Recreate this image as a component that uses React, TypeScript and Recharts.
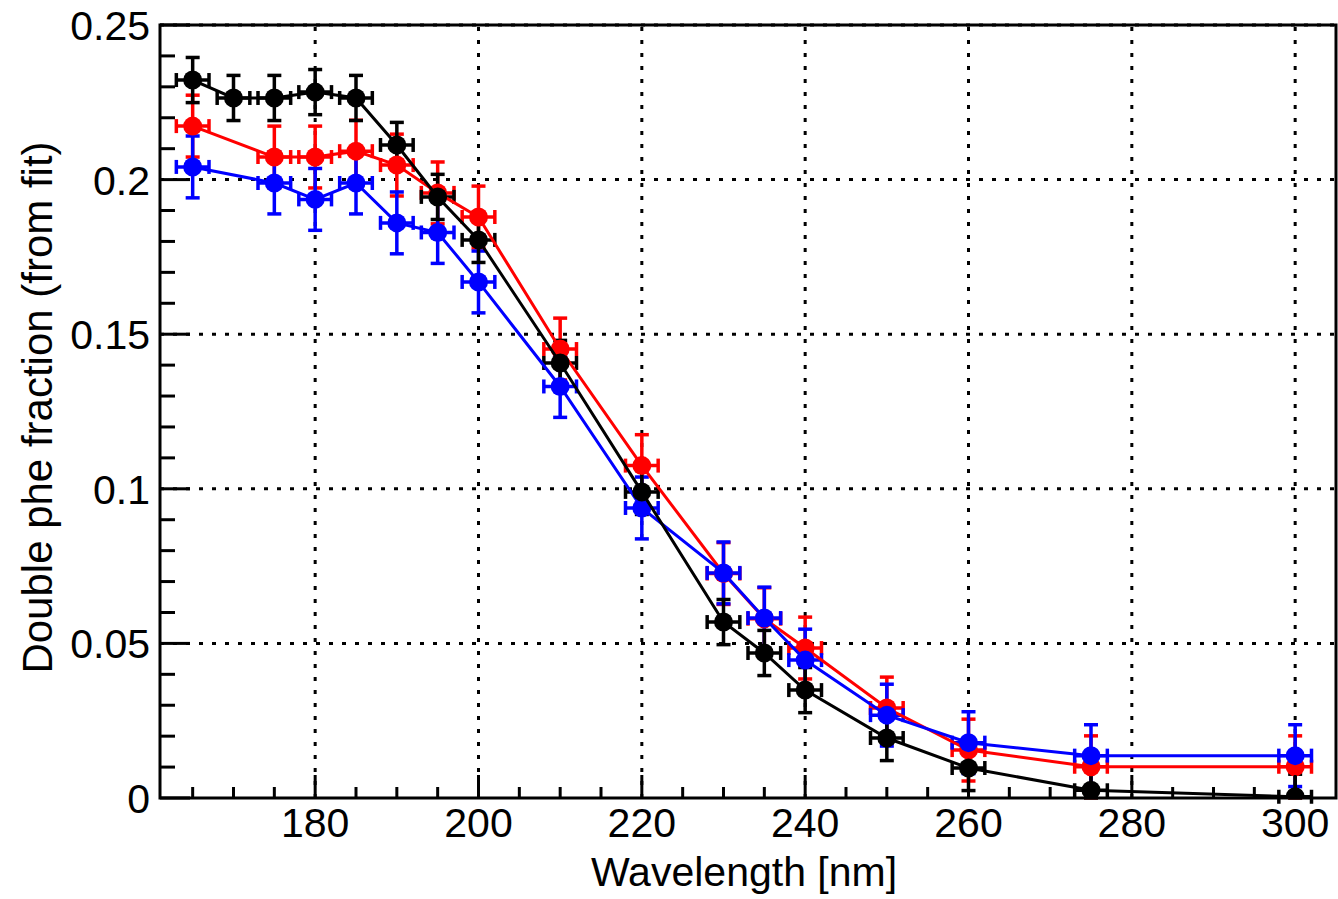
import React from 'react';
import { ComposedChart, Scatter, ErrorBar, XAxis, YAxis, ReferenceLine, ReferenceArea, Label } from 'recharts';

// wavelength points (nm)
const wavelengthBlack = [165, 170, 175, 180, 185, 190, 195, 200, 210, 220, 230, 235, 240, 250, 260, 275, 300];
const wavelengthColor = [165, 175, 180, 185, 190, 195, 200, 210, 220, 230, 235, 240, 250, 260, 275, 300];

// double phe fraction per series
const fracBlack = [0.2322, 0.2264, 0.2264, 0.2283, 0.2264, 0.2112, 0.1944, 0.1805, 0.1407, 0.099, 0.0569, 0.0469, 0.0349, 0.0194, 0.0097, 0.0025, 0.0004];
const fracRed = [0.2173, 0.2073, 0.2073, 0.2092, 0.2047, 0.1957, 0.1879, 0.1452, 0.1075, 0.0726, 0.058, 0.0485, 0.0291, 0.0155, 0.0101, 0.0101];
const fracBlue = [0.2041, 0.1989, 0.1936, 0.1989, 0.186, 0.1829, 0.1669, 0.1331, 0.0938, 0.0728, 0.0582, 0.0446, 0.0268, 0.0179, 0.0137, 0.0137];

// errors (symmetric)
const xErr = 2;
const yErrBlack = 0.0073;
const yErrRed = 0.01;
const yErrBlue = 0.01;

// axes
const xTicks = [165, 170, 175, 180, 185, 190, 195, 200, 205, 210, 215, 220, 225, 230, 235, 240, 245, 250, 255, 260, 265, 270, 275, 280, 285, 290, 295, 300];
const xLabels = [180, 200, 220, 240, 260, 280, 300];
const yTicks = [0, 0.01, 0.02, 0.03, 0.04, 0.05, 0.06, 0.07, 0.08, 0.09, 0.1, 0.11, 0.12, 0.13, 0.14, 0.15, 0.16, 0.17, 0.18, 0.19, 0.2, 0.21, 0.22, 0.23, 0.24, 0.25];
const yLabels = [0, 0.05, 0.1, 0.15, 0.2, 0.25];

const FONT = '"Liberation Sans", Arial, sans-serif';

// error bars are cut at the frame (y = 0), like the original plot
const toPoints = (xs: number[], ys: number[], ey: number) =>
  xs.map((x, i) => ({ x, y: ys[i], ex: xErr, ey: [Math.min(ey, ys[i]), ey] }));

const blackData = toPoints(wavelengthBlack, fracBlack, yErrBlack);
const redData = toPoints(wavelengthColor, fracRed, yErrRed);
const blueData = toPoints(wavelengthColor, fracBlue, yErrBlue);

const XTick = (props: any) => {
  const { x, y, payload } = props;
  const major = xLabels.includes(payload.value);
  return (
    <g>
      <line x1={x} x2={x} y1={y} y2={y - (major ? 23 : 11)} stroke="#000" strokeWidth={3} />
      {major && (
        <text x={x} y={y + 39} textAnchor="middle" fontSize={41} fontFamily={FONT} fill="#000">
          {payload.value}
        </text>
      )}
    </g>
  );
};

const YTick = (props: any) => {
  const { x, y, payload } = props;
  const major = yLabels.some(v => Math.abs(v - payload.value) < 1e-6);
  return (
    <g>
      <line x1={x} x2={x + (major ? 30 : 15)} y1={y} y2={y} stroke="#000" strokeWidth={3} />
      {major && (
        <text x={x - 10} y={y + 15} textAnchor="end" fontSize={41} fontFamily={FONT} fill="#000">
          {payload.value}
        </text>
      )}
    </g>
  );
};

const dot = (color: string) => (p: any) => <circle cx={p.cx} cy={p.cy} r={9.5} fill={color} />;

const Series = (data: any[], color: string, name: string) => (
  <Scatter
    key={name}
    name={name}
    data={data}
    dataKey="y"
    fill={color}
    line={{ stroke: color, strokeWidth: 3 }}
    lineType="joint"
    shape={dot(color)}
    isAnimationActive={false}
  >
    <ErrorBar dataKey="ey" direction="y" width={7} stroke={color} strokeWidth={3.5} isAnimationActive={false} />
    <ErrorBar dataKey="ex" direction="x" width={7} stroke={color} strokeWidth={3.5} isAnimationActive={false} />
  </Scatter>
);

export default function App() {
  return (
    <div style={{ position: 'absolute', left: 0, top: 0, background: '#fff' }}>
      <ComposedChart width={1338} height={899} margin={{ top: 25, right: 2, bottom: 0, left: 0 }}>
        <XAxis
          type="number"
          dataKey="x"
          domain={[161, 305]}
          allowDataOverflow
          ticks={xTicks}
          interval={0}
          height={101}
          tickSize={0}
          tickMargin={0}
          tickLine={false}
          axisLine={false}
          tick={<XTick />}
        >
          <Label value="Wavelength [nm]" position="insideBottom" offset={13} dx={-4} fontSize={41} fontFamily={FONT} fill="#000" />
        </XAxis>
        <YAxis
          type="number"
          dataKey="y"
          domain={[0, 0.25]}
          allowDataOverflow
          ticks={yTicks}
          interval={0}
          width={160}
          tickSize={0}
          tickMargin={0}
          tickLine={false}
          axisLine={false}
          tick={<YTick />}
        >
          <Label
            content={(p: any) => {
              const vb = p.viewBox;
              const cx = vb.x + 52;
              const cy = vb.y + vb.height / 2 - 4;
              return (
                <text x={cx} y={cy} transform={`rotate(-90 ${cx} ${cy})`} textAnchor="middle" fontSize={42} fontFamily={FONT} fill="#000">
                  Double phe fraction (from fit)
                </text>
              );
            }}
          />
        </YAxis>

        {xLabels.map(v => (
          <ReferenceLine key={'gx' + v} x={v} stroke="#000" strokeWidth={3} strokeDasharray="4 9" />
        ))}
        {yLabels.filter(v => v > 0).map(v => (
          <ReferenceLine key={'gy' + v} y={v} stroke="#000" strokeWidth={3} strokeDasharray="4 9" />
        ))}
        <ReferenceArea x1={161} x2={305} y1={0} y2={0.25} fill="none" stroke="#000" strokeWidth={3} ifOverflow="visible" />

        {Series(redData, '#ff0000', 'red')}
        {Series(blueData, '#0000ff', 'blue')}
        {Series(blackData, '#000000', 'black')}
      </ComposedChart>
    </div>
  );
}
